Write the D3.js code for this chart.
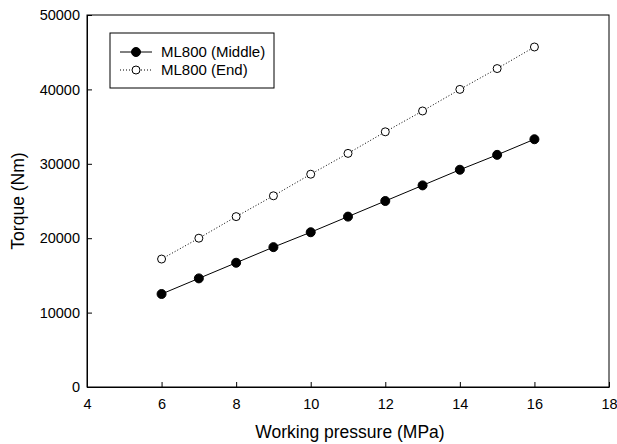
<!DOCTYPE html>
<html>
<head>
<meta charset="utf-8">
<script src="https://cdn.jsdelivr.net/npm/d3@7"></script>
<style>
  html, body { margin: 0; padding: 0; background: #fff; }
  svg { display: block; font-family: "Liberation Sans", Arial, sans-serif; }
</style>
</head>
<body>
<svg id="chart" width="617" height="444"></svg>
<script>
// Working pressure (MPa)
const pressure = [6, 7, 8, 9, 10, 11, 12, 13, 14, 15, 16];
// Torque (Nm)
const torqueMiddle = [12500, 14600, 16700, 18800, 20800, 22900, 25000, 27100, 29200, 31200, 33300];
const torqueEnd = [17200, 20000, 22900, 25700, 28600, 31400, 34300, 37100, 40000, 42800, 45700];
const xTicks = [4, 6, 8, 10, 12, 14, 16, 18];
const yTicks = [0, 10000, 20000, 30000, 40000, 50000];
const seriesNames = ['ML800 (Middle)', 'ML800 (End)'];

const svg = d3.select('#chart');
const margin = { left: 87, right: 8, top: 15, bottom: 57 };
const width = 617, height = 444;

const x = d3.scaleLinear().domain([4, 18]).range([margin.left, width - margin.right]);
const y = d3.scaleLinear().domain([0, 50000]).range([height - margin.bottom, margin.top]);

// frame
svg.append('rect')
  .attr('x', x(4)).attr('y', y(50000))
  .attr('width', x(18) - x(4)).attr('height', y(0) - y(50000))
  .attr('fill', 'none').attr('stroke', '#000').attr('stroke-width', 1);

// axes, ticks pointing inward
const xAxis = svg.append('g')
  .attr('transform', `translate(0,${y(0)})`)
  .call(d3.axisBottom(x).tickValues(xTicks).tickSizeInner(-5).tickSizeOuter(0).tickPadding(12));
const yAxis = svg.append('g')
  .attr('transform', `translate(${x(4)},0)`)
  .call(d3.axisLeft(y).tickValues(yTicks).tickSizeInner(-5).tickSizeOuter(0).tickPadding(7).tickFormat(d3.format('d')));
[xAxis, yAxis].forEach(g => {
  g.select('.domain').attr('stroke', '#000');
  g.selectAll('.tick line').attr('stroke', '#000');
  g.selectAll('.tick text')
    .attr('font-size', 14.5)
    .attr('font-family', '"Liberation Sans", Arial, sans-serif')
    .attr('fill', '#000');
});
xAxis.selectAll('.tick text').attr('y', 17).attr('dy', '0.35em');

// axis titles
svg.append('text')
  .attr('x', 350).attr('y', 438)
  .attr('text-anchor', 'middle').attr('font-size', 17.5)
  .text('Working pressure (MPa)');
svg.append('text')
  .attr('transform', `translate(24,${(y(0) + y(50000)) / 2}) rotate(-90)`)
  .attr('text-anchor', 'middle').attr('font-size', 17.5)
  .text('Torque (Nm)');

const line = d3.line().x(d => x(d[0])).y(d => y(d[1]));
const middle = pressure.map((p, i) => [p, torqueMiddle[i]]);
const end = pressure.map((p, i) => [p, torqueEnd[i]]);

svg.append('path').datum(middle)
  .attr('d', line).attr('fill', 'none').attr('stroke', '#000').attr('stroke-width', 1);
svg.append('path').datum(end)
  .attr('d', line).attr('fill', 'none').attr('stroke', '#000').attr('stroke-width', 1)
  .attr('stroke-dasharray', '1,2');

svg.append('g').selectAll('circle').data(middle).enter().append('circle')
  .attr('cx', d => x(d[0])).attr('cy', d => y(d[1])).attr('r', 4.5)
  .attr('fill', '#000').attr('stroke', '#000');
svg.append('g').selectAll('circle').data(end).enter().append('circle')
  .attr('cx', d => x(d[0])).attr('cy', d => y(d[1])).attr('r', 4)
  .attr('fill', '#fff').attr('stroke', '#000').attr('stroke-width', 1);

// legend
const legend = svg.append('g');
legend.append('rect')
  .attr('x', 110).attr('y', 33).attr('width', 164).attr('height', 55)
  .attr('fill', '#fff').attr('stroke', '#000');
const rows = [
  { name: seriesNames[0], dash: null, fill: '#000', r: 4.5, yy: 52 },
  { name: seriesNames[1], dash: '1,2', fill: '#fff', r: 4, yy: 70 }
];
rows.forEach(r => {
  legend.append('line')
    .attr('x1', 120).attr('x2', 152).attr('y1', r.yy).attr('y2', r.yy)
    .attr('stroke', '#000').attr('stroke-dasharray', r.dash);
  legend.append('circle')
    .attr('cx', 136).attr('cy', r.yy).attr('r', r.r)
    .attr('fill', r.fill).attr('stroke', '#000');
  legend.append('text')
    .attr('x', 161).attr('y', r.yy).attr('dy', '0.35em')
    .attr('font-size', 15).text(r.name);
});
</script>
</body>
</html>
